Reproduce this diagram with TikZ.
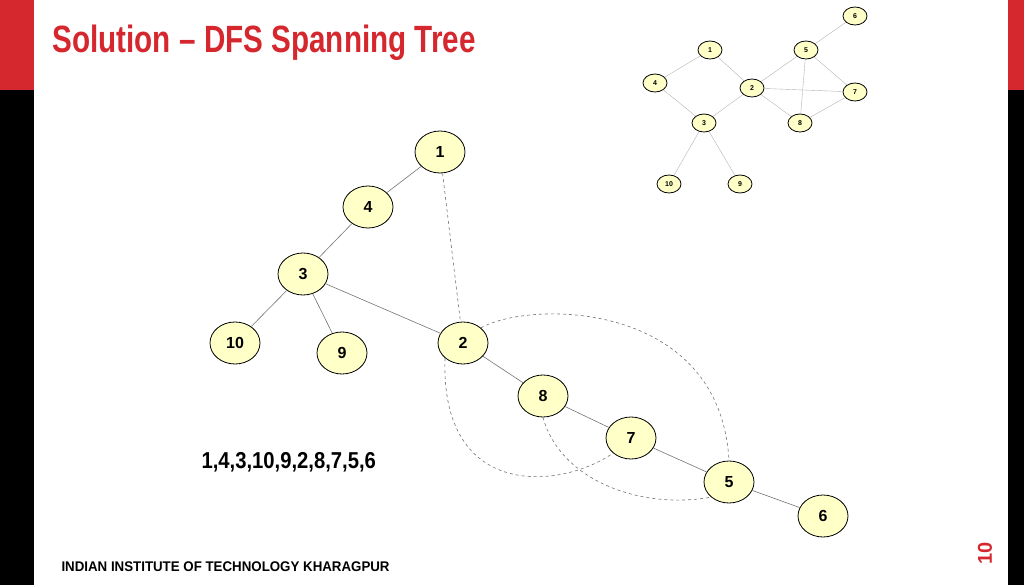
\documentclass[tikz,border=0pt]{standalone}
\usepackage{fontspec}
\setmainfont{Liberation Sans}
\usetikzlibrary{shapes.geometric}
\definecolor{iitred}{RGB}{213,39,46}
\definecolor{nodefill}{RGB}{255,255,200}

\tikzset{
  vtx/.style={ellipse, draw, thick, fill=nodefill, minimum width=50pt, minimum height=42pt, inner sep=0pt, font=\bfseries\fontsize{16}{16}\selectfont},
  svtx/.style={ellipse, draw, thick, fill=nodefill, minimum width=24pt, minimum height=18pt, inner sep=0pt, font=\bfseries\fontsize{7}{7}\selectfont},
  tree/.style={black!55, semithick},
  back/.style={black!55, dashed, semithick},
  sedge/.style={gray!60}
}

\begin{document}
\begin{tikzpicture}[x=1pt, y=-1pt]
  \useasboundingbox (0,0) rectangle (1024,585);
  % side bars
  \fill [iitred] (0,0) rectangle (34,90);
  \fill [black] (0,90) rectangle (34,585);
  \fill [iitred] (1008,0) rectangle (1024,90);
  \fill [black] (1008,90) rectangle (1024,585);
  \node [anchor=west, text=iitred, font=\bfseries\fontsize{38}{38}\selectfont] (title) at (49,43) {\scalebox{0.78}[1]{Solution -- DFS Spanning Tree}};
  \node [anchor=west, font=\bfseries\fontsize{14}{14}\selectfont] (inst) at (58,567) {\scalebox{0.95}[1]{INDIAN INSTITUTE OF TECHNOLOGY KHARAGPUR}};
  \node [rotate=90, text=iitred, font=\bfseries\fontsize{20}{20}\selectfont] (page) at (985,553) {10};
  \node [anchor=west, font=\bfseries\fontsize{23}{23}\selectfont] (order) at (198,462) {\scalebox{0.88}[1]{1,4,3,10,9,2,8,7,5,6}};

  % small graph
  \node [svtx] (s6) at (855,16) {6};
  \node [svtx] (s1) at (710,50) {1};
  \node [svtx] (s5) at (806,50) {5};
  \node [svtx] (s4) at (655,83) {4};
  \node [svtx] (s2) at (752,88) {2};
  \node [svtx] (s7) at (855,92) {7};
  \node [svtx] (s3) at (704,123) {3};
  \node [svtx] (s8) at (800,123) {8};
  \node [svtx] (s10) at (669,184) {10};
  \node [svtx] (s9) at (740,184) {9};
  \foreach \a/\b in {s1/s4, s1/s2, s4/s3, s2/s3, s2/s5, s2/s7, s2/s8, s5/s6, s5/s7, s5/s8, s7/s8, s3/s10, s3/s9}
    \draw [sedge] (\a) -- (\b);

  % spanning tree
  \node [vtx] (n1) at (440,152) {1};
  \node [vtx] (n4) at (368,207) {4};
  \node [vtx] (n3) at (303,274) {3};
  \node [vtx] (n10) at (235,343) {10};
  \node [vtx] (n9) at (342,353) {9};
  \node [vtx] (n2) at (463,343) {2};
  \node [vtx] (n8) at (543,396) {8};
  \node [vtx] (n7) at (631,438) {7};
  \node [vtx] (n5) at (729,482) {5};
  \node [vtx] (n6) at (823,516) {6};
  \foreach \a/\b in {n1/n4, n4/n3, n3/n10, n3/n9, n3/n2, n2/n8, n8/n7, n7/n5, n5/n6}
    \draw [tree] (\a) -- (\b);
  \draw [back] (n1) -- (n2);
  \draw [back] (n2.north east) .. controls (530,300) and (720,300) .. (n5.north);
  \draw [back] (n2.south west) .. controls (440,500) and (560,490) .. (n7.south west);
  \draw [back] (n8.south) .. controls (560,480) and (640,510) .. (n5.south west);
\end{tikzpicture}
\end{document}
